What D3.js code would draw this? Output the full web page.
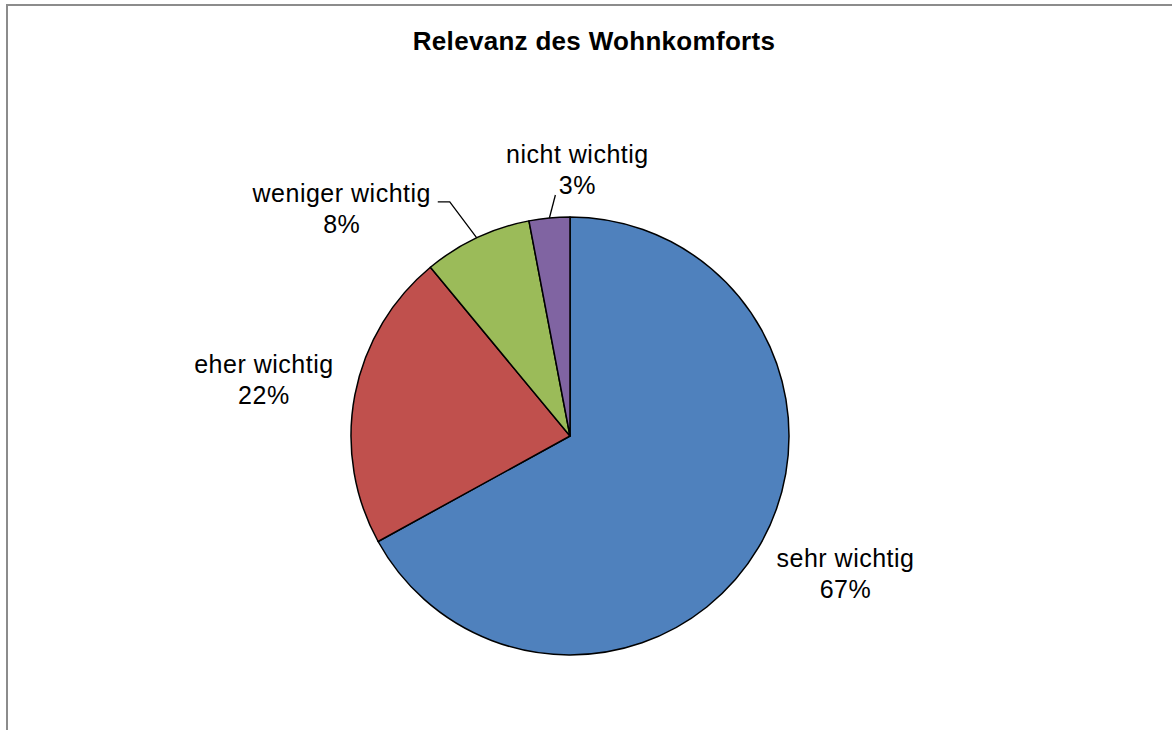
<!DOCTYPE html>
<html>
<head>
<meta charset="utf-8">
<script src="https://cdn.jsdelivr.net/npm/d3@7"></script>
<style>
  body { margin: 0; background: #fff; }
  svg { display: block; font-family: "Liberation Sans", Arial, sans-serif; }
</style>
</head>
<body>
<svg id="chart" width="1172" height="730"></svg>
<script>
const categories = ["sehr wichtig", "eher wichtig", "weniger wichtig", "nicht wichtig"];
const values = [67, 22, 8, 3];
const colors = ["#4F81BD", "#C0504D", "#9BBB59", "#8064A2"];
const title = "Relevanz des Wohnkomforts";

// layout
const width = 1172, height = 730;
const cx = 570, cy = 436, radius = 219;
const fontSize = 25, lineGap = 31;
// label anchor (first baseline) relative to the slice's outer mid point
const labelOffsets = [[87, 20], [-91, -22], [-135, -36], [28, -55]];
// leader lines: [elbow, end] relative to label anchor (null = no leader)
const leaders = [null, null, [[108, 0], [96, 0]], [[-22, 32]]];

const svg = d3.select("#chart");

// border
svg.append("rect")
    .attr("x", 7).attr("y", 5)
    .attr("width", width + 20).attr("height", height + 20)
    .attr("fill", "none")
    .attr("stroke", "#8c8c8c")
    .attr("stroke-width", 2);

svg.append("text")
    .text(title)
    .attr("x", 594).attr("y", 50)
    .attr("text-anchor", "middle")
    .style("font-size", "26px")
    .style("letter-spacing", "0.3px")
    .style("font-weight", "bold");

const data = categories.map((c, i) => ({name: c, value: values[i], color: colors[i]}));

const pie = d3.pie().sort(null).value(d => d.value);
const arc = d3.arc().innerRadius(0).outerRadius(radius);
const arcs = pie(data);

const g = svg.append("g").attr("transform", `translate(${cx},${cy})`);

g.selectAll("path")
    .data(arcs)
    .join("path")
    .attr("d", arc)
    .attr("fill", d => d.data.color)
    .attr("stroke", "#000")
    .attr("stroke-width", 1.5)
    .attr("stroke-linejoin", "round");

arcs.forEach((d, i) => {
    const mid = (d.startAngle + d.endAngle) / 2;
    const px = radius * Math.sin(mid), py = -radius * Math.cos(mid);
    const ax = px + labelOffsets[i][0], ay = py + labelOffsets[i][1];

    if (leaders[i]) {
        const pts = [[px, py]].concat(leaders[i].map(p => [ax + p[0], ay + p[1]]));
        g.append("path")
            .attr("d", d3.line()(pts))
            .attr("fill", "none")
            .attr("stroke", "#000")
            .attr("stroke-width", 1.3);
    }

    const t = g.append("text")
        .attr("text-anchor", "middle")
        .style("font-size", fontSize + "px")
        .style("letter-spacing", "0.5px")
        .attr("fill", "#000");
    t.append("tspan").attr("x", ax).attr("y", ay).text(d.data.name);
    t.append("tspan").attr("x", ax).attr("y", ay + lineGap).text(d.data.value + "%");
});
</script>
</body>
</html>
